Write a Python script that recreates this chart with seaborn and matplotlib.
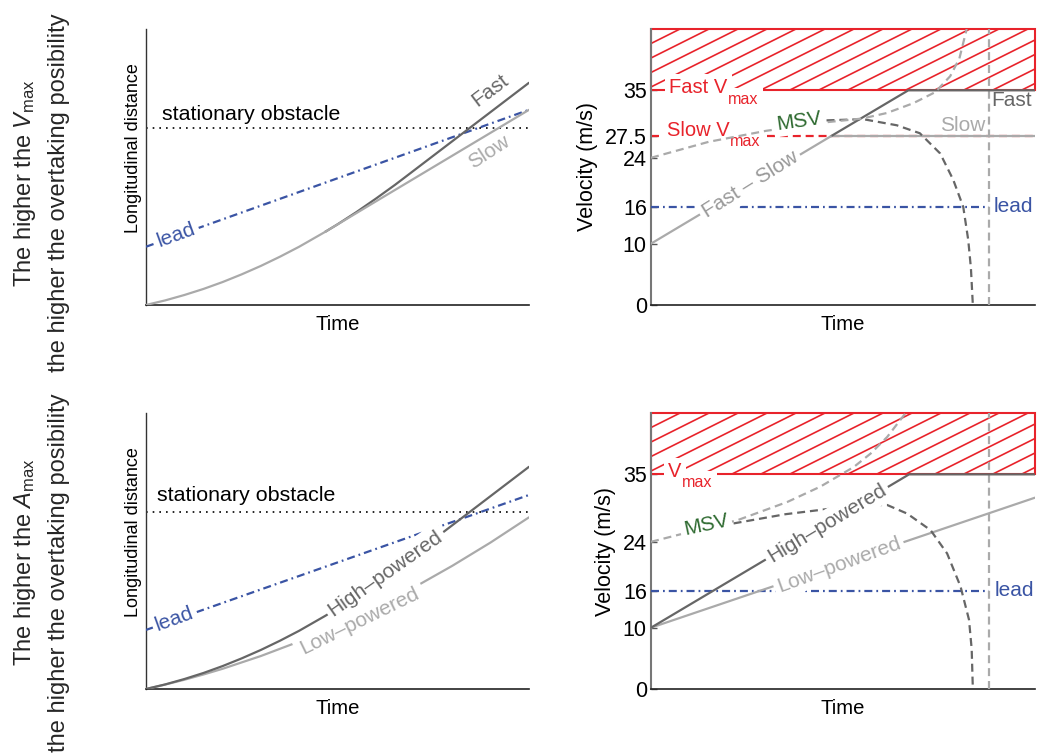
import numpy as np
import matplotlib
matplotlib.use("Agg")
import matplotlib.pyplot as plt
from matplotlib.patches import Rectangle
import seaborn as sns

sns.set_theme(style="white")
plt.rcParams["font.family"] = ["Liberation Sans", "DejaVu Sans"]
plt.rcParams["mathtext.fontset"] = "custom"
plt.rcParams["mathtext.rm"] = "Liberation Sans"
plt.rcParams["mathtext.it"] = "Liberation Sans:italic"
plt.rcParams["mathtext.bf"] = "Liberation Sans:bold"

# ---------------- DATA (normalised time on x) ----------------
# Top-left: longitudinal distance (normalised)
dist_time_shared = [0, 0.05, 0.1, 0.15, 0.2, 0.25, 0.3, 0.35, 0.4, 0.468]
dist_shared = [0, 0.0165, 0.036, 0.058, 0.083, 0.111, 0.1415, 0.175, 0.211, 0.265]
dist_time_slow = [0.468, 0.6, 0.8, 1.0]
dist_slow = [0.265, 0.375, 0.541, 0.707]
dist_time_fast = [0.468, 0.5, 0.55, 0.6, 0.65, 0.67, 1.0]
dist_fast = [0.265, 0.292, 0.337, 0.385, 0.435, 0.456, 0.805]
lead_dist_time = [0, 1]
lead_dist_top = [0.211, 0.707]
obstacle_top = 0.642

# Bottom-left: longitudinal distance (normalised)
dist_time_high = [0, 0.05, 0.1, 0.15, 0.2, 0.25, 0.3, 0.35, 0.4, 0.468, 0.5,
                  0.55, 0.6, 0.65, 0.67, 1.0]
dist_high = [0, 0.0165, 0.036, 0.058, 0.083, 0.111, 0.1415, 0.175, 0.211, 0.265,
             0.292, 0.337, 0.385, 0.435, 0.456, 0.805]
dist_time_low = [0, 0.05, 0.1, 0.15, 0.2, 0.3, 0.4, 0.5, 0.6, 0.7, 0.8, 0.9, 1.0]
dist_low = [0, 0.0159, 0.0334, 0.0525, 0.0732, 0.1195, 0.172, 0.231, 0.2966,
            0.368, 0.4465, 0.531, 0.622]
lead_dist_bottom = [0.214, 0.703]
obstacle_bottom = 0.642

# Top-right: velocity (m/s)
vel_time_shared = [0, 0.468]
vel_shared = [10, 27.5]
vel_time_slow = [0.468, 1.0]
vel_slow = [27.5, 27.5]
vel_time_fast = [0.468, 0.67, 1.0]
vel_fast = [27.5, 35, 35]
msv_time_up_top = [0, 0.15, 0.3, 0.457, 0.55, 0.614, 0.683, 0.74, 0.779, 0.803, 0.822]
msv_up_top = [24, 26.6, 28.4, 29.8, 30.4, 31.3, 32.9, 34.7, 37.3, 40.2, 45]
msv_time_down_top = [0.457, 0.552, 0.64, 0.70, 0.753, 0.787, 0.813, 0.826, 0.833, 0.838]
msv_down_top = [30.1, 30.3, 29.3, 28.0, 24.7, 20.4, 16.0, 10.6, 6.0, 0.0]
vmax_fast = 35
vmax_slow = 27.5
vel_ticks_top = [0, 10, 16, 24, 27.5, 35]
vel_tick_labels_top = ["0", "10", "16", "24", "27.5", "35"]

# Bottom-right: velocity (m/s)
vel_time_high = [0, 0.672, 1.0]
vel_high = [10, 35, 35]
vel_time_low = [0, 1.0]
vel_low = [10, 31.2]
msv_time_up_bot = [0, 0.1, 0.224, 0.355, 0.441, 0.528, 0.572, 0.615, 0.663]
msv_up_bot = [24, 25.6, 27.5, 30.5, 33.0, 36.2, 38.4, 41.1, 45]
msv_time_down_bot = [0.215, 0.35, 0.493, 0.56, 0.615, 0.667, 0.728, 0.771, 0.806,
                     0.828, 0.835, 0.838]
msv_down_bot = [27.0, 28.5, 29.6, 30.0, 30.0, 28.6, 25.9, 22.1, 16.7, 11.3, 6.5, 0.0]
vmax_bot = 35
vel_ticks_bot = [0, 10, 16, 24, 35]
vel_tick_labels_bot = ["0", "10", "16", "24", "35"]

lead_speed = 16
lead_time = [0, 0.88]
stop_time = 0.88
vel_top = 45

# ---------------- STYLE ----------------
RED = "#e8232b"
BLUE = "#3a54a4"
DARK = "#666666"
LIGHT = "#aaaaaa"
GREEN = "#2e6a30"
LW = 1.6
DASH = (0, (3.6, 2.2))
DASHDOT = (0, (3.6, 1.8, 0.8, 1.8))
FS = 15

fig = plt.figure(figsize=(10.39, 7.53), dpi=100)
ax_tl = fig.add_axes([0.1405, 0.5950, 0.3686, 0.3665])
ax_tr = fig.add_axes([0.6266, 0.5950, 0.3696, 0.3665])
ax_bl = fig.add_axes([0.1405, 0.0850, 0.3686, 0.3665])
ax_br = fig.add_axes([0.6266, 0.0850, 0.3696, 0.3665])


def line(ax, x, y, color, ls="-", lw=LW, z=3):
    sns.lineplot(x=x, y=y, ax=ax, color=color, linestyle=ls, linewidth=lw,
                 sort=False, estimator=None, legend=False, zorder=z)


def label(ax, x, y, s, color, rot=0, fs=FS, box=True, ha="center", va="center", z=6, pad=2.5):
    kw = {}
    if box:
        kw["bbox"] = dict(facecolor="white", edgecolor="none", pad=pad)
    ax.text(x, y, s, color=color, rotation=rot, fontsize=fs, ha=ha, va=va,
            rotation_mode="anchor", zorder=z, **kw)


def sub_label(ax, x, y, main, sub, color, fs=14.5, z=3.5, drop=-4.8):
    # white boxes first (invisible glyphs), then glyphs on top
    for boxed in (True, False):
        kw = dict(bbox=dict(facecolor="white", edgecolor="none", pad=3)) if boxed else {}
        col = "none" if boxed else color
        zz = z if boxed else z + 0.05
        t = ax.text(x, y, main, color=col, fontsize=fs, ha="left", va="baseline",
                    zorder=zz, **kw)
        ax.annotate(sub, xy=(1, 0), xycoords=t, xytext=(0.2, drop),
                    textcoords="offset points", fontsize=fs * 0.8, color=col,
                    ha="left", va="baseline", zorder=zz, **kw)


def style_dist(ax):
    ax.set_xlim(0, 1)
    ax.set_ylim(0, 1)
    ax.set_xticks([])
    ax.set_yticks([])
    for s in ["top", "right"]:
        ax.spines[s].set_visible(False)
    ax.spines["left"].set_color("#333333")
    ax.spines["left"].set_linewidth(1.0)
    ax.spines["bottom"].set_color("#222222")
    ax.spines["bottom"].set_linewidth(1.2)
    ax.set_xlabel("Time", fontsize=14.6, labelpad=7, color="black")
    ax.set_ylabel("Longitudinal distance", fontsize=13, color="black")
    ax.yaxis.set_label_coords(-0.01, 0.57)


def style_vel(ax, ticks, tick_labels):
    ax.set_xlim(0, 1)
    ax.set_ylim(0, vel_top)
    ax.set_xticks([])
    ax.set_yticks(ticks)
    ax.set_yticklabels(tick_labels)
    ax.tick_params(axis="y", direction="in", length=4, width=1, color="#555555",
                   labelsize=15.5, pad=3, left=True, labelcolor="black")
    for s in ["top", "right"]:
        ax.spines[s].set_visible(False)
    ax.spines["left"].set_color("#777777")
    ax.spines["left"].set_linewidth(1.5)
    ax.spines["bottom"].set_color("#222222")
    ax.spines["bottom"].set_linewidth(1.2)
    ax.set_xlabel("Time", fontsize=14.6, labelpad=7, color="black")
    ax.set_ylabel("Velocity (m/s)", fontsize=15.5, labelpad=5, color="black")


def hatch_box(ax, y0, y1):
    rect = Rectangle((0, y0), 1, y1 - y0, facecolor="none", edgecolor=RED,
                     lw=1.5, zorder=2, clip_on=False)
    ax.add_patch(rect)
    slope = 31.3
    rise = (y1 - y0) / slope
    for x0 in np.arange(-rise, 1.0, 0.0755):
        ln, = ax.plot([x0, x0 + rise], [y0, y1], color=RED, lw=1.2, zorder=1.5)
        ln.set_clip_path(rect)


# ---------------- Top-left ----------------
ax = ax_tl
style_dist(ax)
ax.axhline(obstacle_top, color="black", lw=1.2, ls=(0, (1, 3)), zorder=2)
label(ax, 0.041, 0.691, "stationary obstacle", "black", fs=15.4, box=False, ha="left")
line(ax, lead_dist_time, lead_dist_top, BLUE, DASHDOT, z=3)
line(ax, dist_time_fast, dist_fast, DARK, z=4)
line(ax, dist_time_slow, dist_slow, LIGHT, z=4)
line(ax, dist_time_shared, dist_shared, LIGHT, z=5)
label(ax, 0.08, 0.252, "lead", BLUE, rot=20)
label(ax, 0.90, 0.776, "Fast", DARK, rot=37, box=False)
label(ax, 0.896, 0.553, "Slow", LIGHT, rot=33, box=False)

# ---------------- Bottom-left ----------------
ax = ax_bl
style_dist(ax)
ax.axhline(obstacle_bottom, color="black", lw=1.2, ls=(0, (1, 3)), zorder=2)
label(ax, 0.028, 0.70, "stationary obstacle", "black", fs=15.4, box=False, ha="left")
line(ax, lead_dist_time, lead_dist_bottom, BLUE, DASHDOT, z=3)
line(ax, dist_time_low, dist_low, LIGHT, z=4)
line(ax, dist_time_high, dist_high, DARK, z=4)
label(ax, 0.075, 0.252, "lead", BLUE, rot=20)
label(ax, 0.625, 0.42, "High–powered", DARK, rot=35)
label(ax, 0.559, 0.245, "Low–powered", LIGHT, rot=26, pad=4)

# ---------------- Top-right ----------------
ax = ax_tr
style_vel(ax, vel_ticks_top, vel_tick_labels_top)
hatch_box(ax, vmax_fast, vel_top)
line(ax, [0, 1], [vmax_slow, vmax_slow], RED, DASH, z=2)
line(ax, lead_time, [lead_speed, lead_speed], BLUE, DASHDOT, z=3)
ax.axvline(stop_time, color=LIGHT, lw=LW, ls=DASH, zorder=3)
line(ax, vel_time_slow, vel_slow, LIGHT, z=4)
line(ax, vel_time_fast, vel_fast, DARK, z=4)
line(ax, vel_time_shared, vel_shared, LIGHT, z=5)
line(ax, msv_time_down_top, msv_down_top, DARK, DASH, z=4.5)
sub_label(ax, 0.048, 34.5, "Fast V", "max", RED)
sub_label(ax, 0.041, 27.6, "Slow V", "max", RED)
line(ax, msv_time_up_top, msv_up_top, LIGHT, DASH, z=4.6)
label(ax, 0.386, 30.0, "MSV", GREEN, rot=8)
label(ax, 0.258, 19.6, "Fast – Slow", "#999999", rot=32)
label(ax, 0.887, 33.4, "Fast", DARK, ha="left", box=False)
label(ax, 0.872, 29.3, "Slow", LIGHT, ha="right", box=False)
label(ax, 0.893, lead_speed, "lead", BLUE, ha="left", box=False)

# ---------------- Bottom-right ----------------
ax = ax_br
style_vel(ax, vel_ticks_bot, vel_tick_labels_bot)
hatch_box(ax, vmax_bot, vel_top)
line(ax, lead_time, [lead_speed, lead_speed], BLUE, DASHDOT, z=3)
ax.axvline(stop_time, color=LIGHT, lw=LW, ls=DASH, zorder=3)
line(ax, vel_time_low, vel_low, LIGHT, z=4)
line(ax, vel_time_high, vel_high, DARK, z=4)
line(ax, msv_time_down_bot, msv_down_bot, DARK, DASH, z=4.5)
line(ax, msv_time_up_bot, msv_up_bot, LIGHT, DASH, z=4.6)
sub_label(ax, 0.045, 34.6, "V", "max", RED)
label(ax, 0.143, 26.7, "MSV", GREEN, rot=12)
label(ax, 0.458, 27.0, "High–powered", DARK, rot=31)
label(ax, 0.489, 20.2, "Low–powered", LIGHT, rot=20)
label(ax, 0.895, lead_speed, "lead", BLUE, ha="left", box=False)

# ---------------- Row labels ----------------
fig.text(0.024, 0.757, r"The higher the $V_{\mathrm{max}}$", rotation=90,
         ha="center", va="center", fontsize=17)
fig.text(0.057, 0.744, "the higher the overtaking posibility", rotation=90,
         ha="center", va="center", fontsize=17)
fig.text(0.024, 0.254, r"The higher the $A_{\mathrm{max}}$", rotation=90,
         ha="center", va="center", fontsize=17)
fig.text(0.057, 0.240, "the higher the overtaking posibility", rotation=90,
         ha="center", va="center", fontsize=17)

fig.savefig("out.png", dpi=100)
